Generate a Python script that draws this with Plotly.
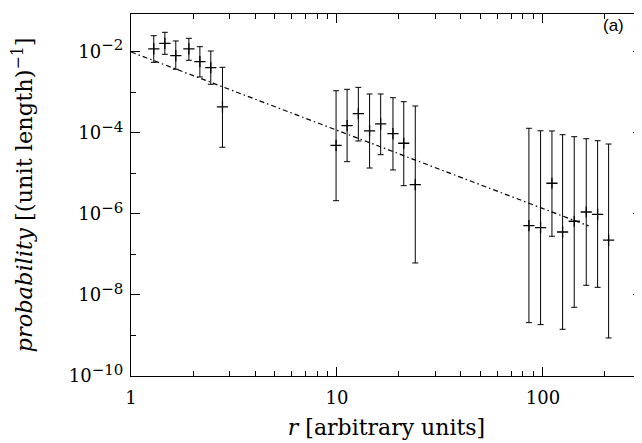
import plotly.graph_objects as go

# data
r = [1.29, 1.46, 1.65, 1.91, 2.16, 2.44, 2.78,
     9.9, 11.2, 12.7, 14.4, 16.3, 18.7, 21.1, 24.0,
     85.5, 97.4, 110.6, 124.6, 141.9, 162.3, 184.3, 208.4]
prob = [1.17e-2, 1.61e-2, 7.96e-3, 1.17e-2, 5.66e-3, 4.03e-3, 4.33e-4,
        4.91e-5, 1.50e-4, 2.96e-4, 1.11e-4, 1.65e-4, 9.48e-5, 5.51e-5, 5.24e-6,
        5.11e-7, 4.56e-7, 5.68e-6, 3.57e-7, 6.56e-7, 1.11e-6, 9.75e-7, 2.26e-7]
prob_hi = [2.48e-2, 3.01e-2, 1.84e-2, 2.14e-2, 1.33e-2, 1.04e-2, 4.12e-3,
           1.09e-3, 1.18e-3, 1.32e-3, 9.06e-4, 9.06e-4, 7.33e-4, 5.85e-4, 4.58e-4,
           1.29e-4, 1.12e-4, 1.11e-4, 8.97e-5, 8.0e-5, 7.14e-5, 6.38e-5, 5.28e-5]
prob_lo = [5.48e-3, 8.63e-3, 3.68e-3, 6.14e-3, 2.38e-3, 1.57e-3, 4.39e-5,
           2.11e-6, 1.94e-5, 6.27e-5, 1.35e-5, 2.88e-5, 1.21e-5, 4.95e-6, 6.14e-8,
           2.07e-9, 1.85e-9, 2.80e-7, 1.42e-9, 4.95e-9, 1.73e-8, 1.54e-8, 8.67e-10]

fit_r = [1.0, 167.0]
fit_p = [9.84e-3, 5.02e-7]

y_tickvals = [1e-10, 1e-8, 1e-6, 1e-4, 1e-2]
y_exponents = ["−10", "−8", "−6", "−4", "−2"]
y_minor = [1e-9, 1e-7, 1e-5, 1e-3]
x_tickvals = [1, 10, 100]
x_ticktext = ["1", "10", "100"]
x_minor = [2, 3, 4, 5, 6, 7, 8, 9, 20, 30, 40, 50, 60, 70, 80, 90, 200, 300]

err_plus = [h - p for h, p in zip(prob_hi, prob)]
err_minus = [p - l for p, l in zip(prob, prob_lo)]
y_ticktext = ["10<sup><span style='font-size:15px'>%s</span></sup>" % e for e in y_exponents]

SERIF = "DejaVu Serif"

fig = go.Figure()
fig.add_trace(go.Scatter(
    x=fit_r, y=fit_p, mode="lines",
    line=dict(color="black", width=1.2, dash="5px,3px,1.5px,3px"),
    showlegend=False, hoverinfo="skip"))
fig.add_trace(go.Scatter(
    x=r, y=prob, mode="markers",
    marker=dict(symbol="cross-thin", size=8, line=dict(color="black", width=1.3), color="black"),
    error_y=dict(type="data", symmetric=False, array=err_plus, arrayminus=err_minus,
                 color="black", thickness=1, width=3),
    showlegend=False))

axis_common = dict(
    showgrid=False, zeroline=False, showline=True, linecolor="black", linewidth=1,
    mirror="ticks", ticks="inside", tickcolor="black", ticklen=9, tickwidth=1,
    tickfont=dict(family=SERIF, size=18, color="black"),
)

fig.update_xaxes(type="log", range=[0, 2.481], tickvals=x_tickvals, ticktext=x_ticktext,
                 ticklabelstandoff=5,
                 minor=dict(tickvals=x_minor, ticks="inside", ticklen=5, tickcolor="black", tickwidth=1),
                 title=dict(text="<i>r</i> [arbitrary units]", font=dict(family=SERIF, size=22, color="black"),
                            standoff=13),
                 **axis_common)
fig.update_yaxes(type="log", range=[-10, -1.07], tickvals=y_tickvals, ticktext=y_ticktext,
                 ticklabelstandoff=3,
                 minor=dict(tickvals=y_minor, ticks="inside", ticklen=5, tickcolor="black", tickwidth=1),
                 title=dict(text="<i>probability</i> [(unit length)<sup>−1</sup>]",
                            font=dict(family=SERIF, size=22.5, color="black"), standoff=30),
                 **axis_common)

fig.add_annotation(x=1, y=1, xref="paper", yref="paper", xanchor="right", yanchor="top",
                   xshift=-16, yshift=0, text="(a)", showarrow=False,
                   font=dict(family="Liberation Sans", size=17, color="black"))

fig.update_layout(width=634, height=435, margin=dict(l=123, r=0, t=6, b=67),
                  plot_bgcolor="white", paper_bgcolor="white")

fig.write_html("out.html")
